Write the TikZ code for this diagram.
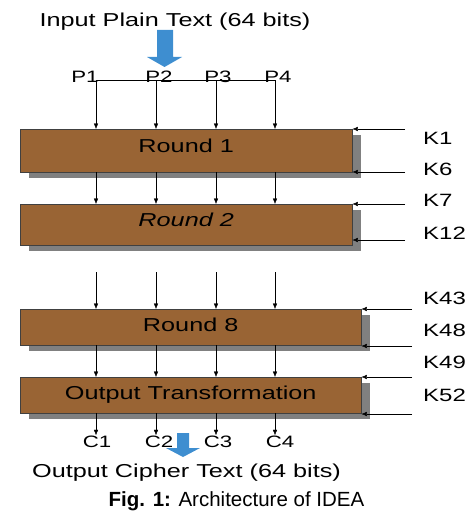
\documentclass[tikz,border=0pt]{standalone}
\usepackage{fontspec}
\setmainfont{Liberation Sans}
\newfontfamily\widesans{Liberation Sans}[FakeStretch=1.35]
\usetikzlibrary{shadows,arrows.meta}
\definecolor{roundbrown}{RGB}{153,100,52}
\definecolor{arrowblue}{RGB}{62,142,208}
\begin{document}
\begin{tikzpicture}[x=1pt,y=-1pt,>={Latex[length=5.5pt,width=4.5pt]},
  rnd/.style={draw=black!75,fill=roundbrown,anchor=north west,inner sep=0pt,text height=13.5pt,
    drop shadow={shadow xshift=9pt,shadow yshift=-6pt,fill=gray,opacity=1},
    font=\widesans\fontsize{18.7}{20}\selectfont},
  txt/.style={anchor=base,inner sep=0pt,font=\widesans\fontsize{#1}{20}\selectfont}]
\useasboundingbox (0,0) rectangle (474,519);
\node[rnd,minimum width=332pt,minimum height=43pt,text depth=9.1pt] (r1) at (20,129) {Round 1};
\node[rnd,minimum width=332pt,minimum height=41pt,text depth=9.1pt] (r2) at (20,204) {\itshape Round 2};
\node[rnd,minimum width=341pt,minimum height=36pt,text depth=4.1pt] (r8) at (20,309) {Round 8};
\node[rnd,minimum width=341pt,minimum height=36pt,text depth=4.9pt] (ot) at (20,377) {Output Transformation};
\foreach \i/\x in {1/96,2/156,3/216,4/275} \coordinate (c\i) at (\x,0);
\coordinate (bus) at (0,80);
\coordinate (gap) at (0,272);
\node[txt=18.7] (intxt) at (175,27) {Input Plain Text (64 bits)};
\foreach \i/\x in {1/85,2/159,3/218,4/278} \node[txt=16.5] (p\i) at (\x,82) {P\i};
\foreach \i/\x in {1/97,2/159,3/218,4/280} \node[txt=16.5] (q\i) at (\x,447) {C\i};
\draw (bus -| c1) -- (bus -| c4);
\foreach \i in {1,...,4}{
  \draw[->] (bus -| c\i) -- (r1.north -| c\i);
  \draw[->] (r1.south -| c\i) -- (r2.north -| c\i);
  \draw[->] (gap -| c\i) -- (r8.north -| c\i);
  \draw[->] (r8.south -| c\i) -- (ot.north -| c\i);
  \draw[->] (ot.south -| c\i) -- (q\i.north -| c\i);
}
\foreach \b/\ya/\yb/\xe in {r1/129/172/405, r2/204/240/405, r8/309/346/412, ot/377/414/412}{
  \coordinate (ka\b) at (\xe,\ya);
  \coordinate (kb\b) at (\xe,\yb);
  \draw[->] (ka\b) -- (ka\b -| \b.east);
  \draw[->] (kb\b) -- (kb\b -| \b.east);
}
\foreach \k/\y in {1/144,6/175,7/206,12/239,43/304,48/336,49/368,52/401}
  \node[txt=17.8,anchor=base west] (k\k) at (423,\y) {K\k};
\fill[arrowblue] (157,30) -- (173,30) -- (173,57) -- (182,57) -- (164.5,67) -- (147,57) -- (157,57) -- cycle;
\fill[arrowblue] (177,433) -- (189,433) -- (189,448) -- (200,448) -- (183,457) -- (166,448) -- (177,448) -- cycle;
\node[txt=18.7] (outtxt) at (186.5,477) {Output Cipher Text (64 bits)};
\node[anchor=base,inner sep=0pt,font=\fontsize{20.5}{24}\selectfont] (cap) at (236.5,506.7) {\textbf{Fig. 1:} Architecture of IDEA};
\end{tikzpicture}
\end{document}
